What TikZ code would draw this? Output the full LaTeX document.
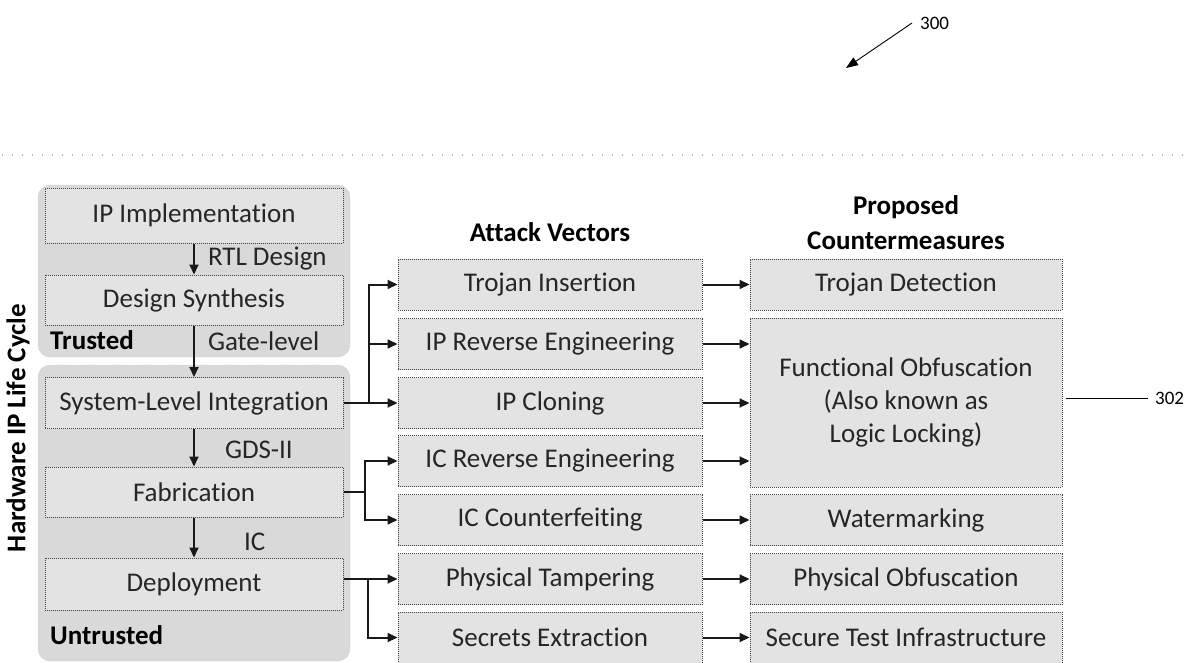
\documentclass[tikz,border=0pt]{standalone}
\usepackage{fontspec}
\setmainfont{Carlito}[Ligatures=NoCommon]
\usetikzlibrary{arrows.meta,calc}
\begin{document}
\begin{tikzpicture}[x=1pt,y=-1pt,
  ibox/.style={draw=black!75, densely dotted, line width=1pt, fill=gray!22, inner sep=0pt,
    font=\fontsize{27}{33}\selectfont, text=black!85, align=center},
  lcbox/.style={ibox, minimum width=298pt},
  avbox/.style={ibox, minimum width=304pt, minimum height=51pt},
  cmbox/.style={ibox, minimum width=312pt, minimum height=51pt},
  region/.style={fill=gray!30, draw=gray!55, densely dotted, rounded corners=12pt, inner sep=0pt},
  arr/.style={-{Triangle[length=10pt,width=9pt]}, line width=2pt, black!90},
  lnk/.style={line width=2pt, black!90},
  lbl/.style={font=\fontsize{27}{33}\selectfont, inner sep=0pt, text=black!85},
  hdr/.style={font=\fontsize{27}{35}\selectfont\bfseries, inner sep=0pt, align=center},
  num/.style={font=\fontsize{19}{22}\selectfont, inner sep=0pt},
  thin/.style={line width=0.9pt}]
\useasboundingbox (0,0) rectangle (1190,663);

% faint dotted separator
\draw[gray!55, line width=1.3pt, dash pattern=on 1.3pt off 8.7pt] (2,155) -- (1190,155);

% reference numeral 300
\node[num, anchor=west] (n300) at (920,23) {300};
\coordinate (a300) at (846,68);
\draw[thin, -{Triangle[length=12pt,width=9pt]}] (n300.west) ++(-8,0) -- (a300);

% regions
\node[region, minimum width=312pt, minimum height=172pt] (trusted) at (194,271) {};
\node[region, minimum width=312pt, minimum height=296pt] (untrusted) at (194,513) {};

% vertical title
\node[hdr, rotate=90] (title) at (18,428) {Hardware IP Life Cycle};

% life cycle boxes
\node[lcbox, minimum height=55pt] (ipimpl) at (194,215.5) {IP Implementation};
\node[lcbox, minimum height=50pt] (dsyn) at (194,300) {Design Synthesis};
\node[lcbox, minimum height=51pt] (sli) at (194,403) {System-Level Integration};
\node[lcbox, minimum height=50pt] (fab) at (194,492) {Fabrication};
\node[lcbox, minimum height=52pt] (dep) at (194,584) {Deployment};

\node[lbl, font=\fontsize{27}{33}\selectfont\bfseries, text=black, anchor=west] (trl) at (50,340) {Trusted};
\node[lbl, font=\fontsize{27}{33}\selectfont\bfseries, text=black, anchor=west] (untrl) at (50,635) {Untrusted};

\draw[arr] (ipimpl) -- (dsyn) node[lbl, midway, anchor=west, xshift=13pt] (rtl) {RTL Design};
\draw[arr] (dsyn) -- (sli) node[lbl, pos=0.3, anchor=west, xshift=13pt] (gate) {Gate-level};
\draw[arr] (sli) -- (fab) node[lbl, pos=0.55, anchor=west, xshift=30pt] (gds) {GDS-II};
\draw[arr] (fab) -- (dep) node[lbl, pos=0.6, anchor=west, xshift=49pt] (icl) {IC};

% headers
\node[hdr] (hav) at (550,232) {Attack Vectors};
\node[hdr] (hcm) at (906,222.5) {Proposed\\Countermeasures};

% attack vectors
\node[avbox] (ti) at (550,284.5) {Trojan Insertion};
\node[avbox] (ipre) at (550,344) {IP Reverse Engineering};
\node[avbox] (ipc) at (550,403) {IP Cloning};
\node[avbox] (icre) at (550,461) {IC Reverse Engineering};
\node[avbox] (icc) at (550,520) {IC Counterfeiting};
\node[avbox] (pt) at (550,579) {Physical Tampering};
\node[avbox] (se) at (550,637.5) {Secrets Extraction};

% countermeasures
\node[cmbox] (td) at (906,284.5) {Trojan Detection};
\node[cmbox, minimum height=169pt] (fo) at (906,402.5) {Functional Obfuscation\\(Also known as\\Logic Locking)};
\node[cmbox] (wm) at (906,520) {Watermarking};
\node[cmbox] (po) at (906,579) {Physical Obfuscation};
\node[cmbox] (sti) at (906,637.5) {Secure Test Infrastructure};

% reference numeral 302
\node[num, anchor=west] (n302) at (1155,398) {302};
\draw[thin] (fo.east |- n302) ++(3,0) -- ($(n302.west)+(-7,0)$);

% life cycle -> attack vectors
\coordinate (b1) at (369,403);
\draw[arr] (sli.east) -- (ipc.west);
\draw[arr] (b1) |- (ti.west);
\draw[arr] (b1) |- (ipre.west);

\coordinate (b2) at (365,492);
\draw[lnk] (fab.east) -- (b2);
\draw[arr] (b2) |- (icre.west);
\draw[arr] (b2) |- (icc.west);

\coordinate (b3) at (368,579);
\draw[arr] (dep.east |- pt.west) -- (pt.west);
\draw[arr] (b3) |- (se.west);

% attack vectors -> countermeasures
\draw[arr] (ti.east) -- (td.west);
\draw[arr] (ipre.east) -- (ipre.east -| fo.west);
\draw[arr] (ipc.east) -- (ipc.east -| fo.west);
\draw[arr] (icre.east) -- (icre.east -| fo.west);
\draw[arr] (icc.east) -- (wm.west);
\draw[arr] (pt.east) -- (po.west);
\draw[arr] (se.east) -- (sti.west);
\end{tikzpicture}
\end{document}
